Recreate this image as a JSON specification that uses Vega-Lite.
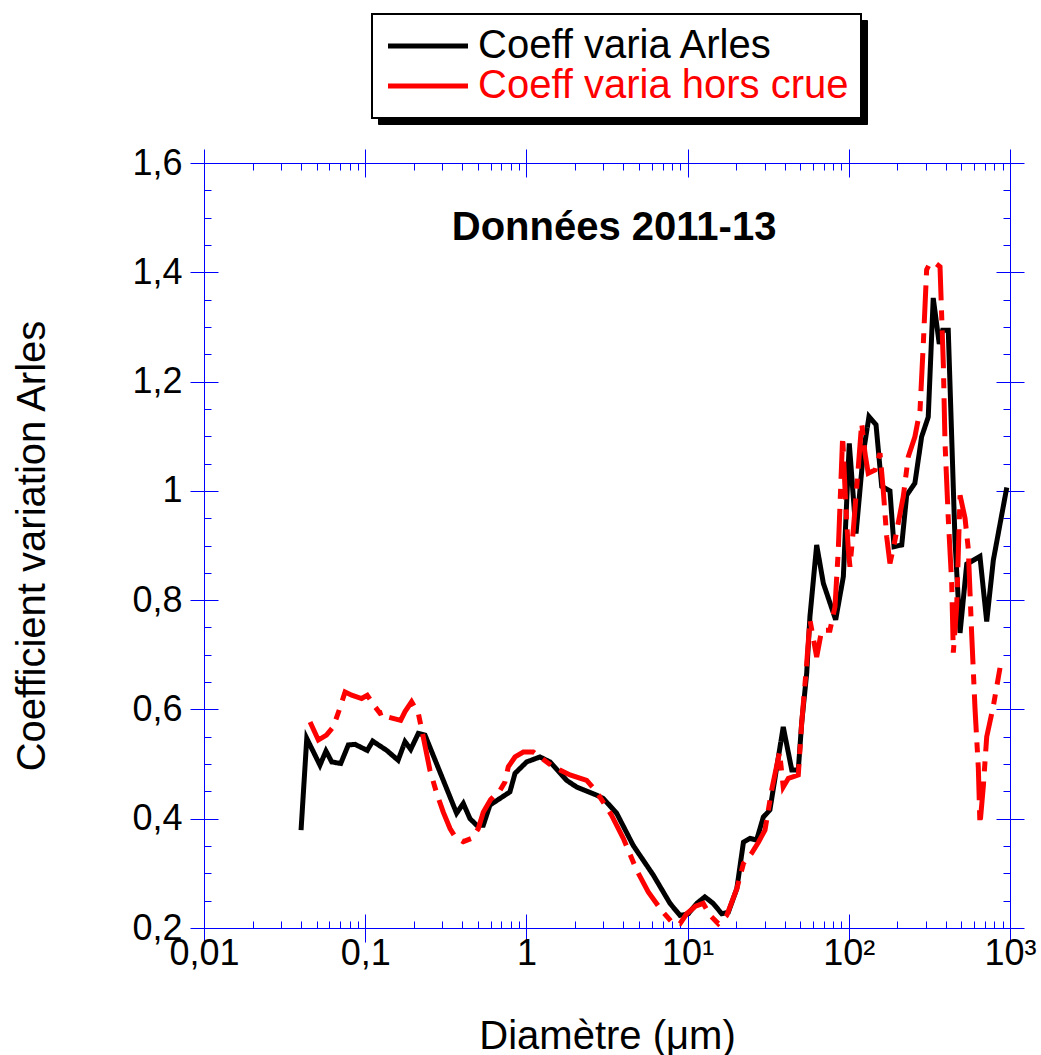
{
  "$schema": "https://vega.github.io/schema/vega-lite/v6.json",
  "width": 806,
  "height": 765,
  "autosize": {"type": "none"},
  "padding": {"left": 204, "top": 163, "right": 31, "bottom": 127},
  "background": "white",
  "config": {
    "view": {"stroke": null},
    "axis": {
      "grid": false,
      "domainColor": "#0000ff",
      "tickColor": "#0000ff",
      "domainWidth": 1,
      "tickWidth": 1,
      "labelFont": "Liberation Sans",
      "labelFontSize": 36,
      "labelColor": "#000000",
      "titleFont": "Liberation Sans",
      "titleFontSize": 40,
      "titleFontWeight": "normal",
      "titleColor": "#000000",
      "labelFlush": false,
      "labelOverlap": false
    },
    "legend": {"labelFont": "Liberation Sans", "labelLimit": 0}
  },
  "data": {
    "values": [
      {"d": 0.04, "cv": 0.379, "s": "Coeff varia Arles"},
      {"d": 0.0434, "cv": 0.547, "s": "Coeff varia Arles"},
      {"d": 0.0524, "cv": 0.498, "s": "Coeff varia Arles"},
      {"d": 0.0571, "cv": 0.524, "s": "Coeff varia Arles"},
      {"d": 0.062, "cv": 0.504, "s": "Coeff varia Arles"},
      {"d": 0.0705, "cv": 0.501, "s": "Coeff varia Arles"},
      {"d": 0.0786, "cv": 0.535, "s": "Coeff varia Arles"},
      {"d": 0.0865, "cv": 0.536, "s": "Coeff varia Arles"},
      {"d": 0.103, "cv": 0.525, "s": "Coeff varia Arles"},
      {"d": 0.1113, "cv": 0.542, "s": "Coeff varia Arles"},
      {"d": 0.136, "cv": 0.525, "s": "Coeff varia Arles"},
      {"d": 0.16, "cv": 0.507, "s": "Coeff varia Arles"},
      {"d": 0.1766, "cv": 0.541, "s": "Coeff varia Arles"},
      {"d": 0.1916, "cv": 0.527, "s": "Coeff varia Arles"},
      {"d": 0.2135, "cv": 0.556, "s": "Coeff varia Arles"},
      {"d": 0.235, "cv": 0.553, "s": "Coeff varia Arles"},
      {"d": 0.369, "cv": 0.41, "s": "Coeff varia Arles"},
      {"d": 0.406, "cv": 0.428, "s": "Coeff varia Arles"},
      {"d": 0.447, "cv": 0.4, "s": "Coeff varia Arles"},
      {"d": 0.492, "cv": 0.388, "s": "Coeff varia Arles"},
      {"d": 0.54, "cv": 0.388, "s": "Coeff varia Arles"},
      {"d": 0.594, "cv": 0.425, "s": "Coeff varia Arles"},
      {"d": 0.79, "cv": 0.449, "s": "Coeff varia Arles"},
      {"d": 0.85, "cv": 0.483, "s": "Coeff varia Arles"},
      {"d": 1.004, "cv": 0.504, "s": "Coeff varia Arles"},
      {"d": 1.214, "cv": 0.513, "s": "Coeff varia Arles"},
      {"d": 1.4, "cv": 0.504, "s": "Coeff varia Arles"},
      {"d": 1.78, "cv": 0.47, "s": "Coeff varia Arles"},
      {"d": 2.05, "cv": 0.458, "s": "Coeff varia Arles"},
      {"d": 2.73, "cv": 0.443, "s": "Coeff varia Arles"},
      {"d": 3.0, "cv": 0.437, "s": "Coeff varia Arles"},
      {"d": 3.63, "cv": 0.41, "s": "Coeff varia Arles"},
      {"d": 4.6, "cv": 0.351, "s": "Coeff varia Arles"},
      {"d": 6.12, "cv": 0.297, "s": "Coeff varia Arles"},
      {"d": 7.78, "cv": 0.245, "s": "Coeff varia Arles"},
      {"d": 8.97, "cv": 0.223, "s": "Coeff varia Arles"},
      {"d": 10.1, "cv": 0.226, "s": "Coeff varia Arles"},
      {"d": 11.4, "cv": 0.245, "s": "Coeff varia Arles"},
      {"d": 12.8, "cv": 0.257, "s": "Coeff varia Arles"},
      {"d": 14.4, "cv": 0.245, "s": "Coeff varia Arles"},
      {"d": 16.3, "cv": 0.226, "s": "Coeff varia Arles"},
      {"d": 17.9, "cv": 0.229, "s": "Coeff varia Arles"},
      {"d": 20.2, "cv": 0.272, "s": "Coeff varia Arles"},
      {"d": 22.2, "cv": 0.357, "s": "Coeff varia Arles"},
      {"d": 24.4, "cv": 0.364, "s": "Coeff varia Arles"},
      {"d": 26.8, "cv": 0.361, "s": "Coeff varia Arles"},
      {"d": 29.5, "cv": 0.403, "s": "Coeff varia Arles"},
      {"d": 32.4, "cv": 0.416, "s": "Coeff varia Arles"},
      {"d": 39.2, "cv": 0.568, "s": "Coeff varia Arles"},
      {"d": 44.3, "cv": 0.489, "s": "Coeff varia Arles"},
      {"d": 48.6, "cv": 0.489, "s": "Coeff varia Arles"},
      {"d": 51, "cv": 0.575, "s": "Coeff varia Arles"},
      {"d": 54.8, "cv": 0.666, "s": "Coeff varia Arles"},
      {"d": 57.4, "cv": 0.77, "s": "Coeff varia Arles"},
      {"d": 63.2, "cv": 0.901, "s": "Coeff varia Arles"},
      {"d": 69.5, "cv": 0.831, "s": "Coeff varia Arles"},
      {"d": 82.9, "cv": 0.764, "s": "Coeff varia Arles"},
      {"d": 92.5, "cv": 0.843, "s": "Coeff varia Arles"},
      {"d": 100.7, "cv": 1.087, "s": "Coeff varia Arles"},
      {"d": 110.9, "cv": 0.922, "s": "Coeff varia Arles"},
      {"d": 123, "cv": 1.069, "s": "Coeff varia Arles"},
      {"d": 133.4, "cv": 1.136, "s": "Coeff varia Arles"},
      {"d": 147.5, "cv": 1.121, "s": "Coeff varia Arles"},
      {"d": 160, "cv": 1.008, "s": "Coeff varia Arles"},
      {"d": 180, "cv": 1.0, "s": "Coeff varia Arles"},
      {"d": 190.8, "cv": 0.898, "s": "Coeff varia Arles"},
      {"d": 213, "cv": 0.901, "s": "Coeff varia Arles"},
      {"d": 228.6, "cv": 0.992, "s": "Coeff varia Arles"},
      {"d": 257, "cv": 1.014, "s": "Coeff varia Arles"},
      {"d": 283, "cv": 1.099, "s": "Coeff varia Arles"},
      {"d": 311, "cv": 1.135, "s": "Coeff varia Arles"},
      {"d": 334, "cv": 1.353, "s": "Coeff varia Arles"},
      {"d": 364, "cv": 1.269, "s": "Coeff varia Arles"},
      {"d": 382, "cv": 1.294, "s": "Coeff varia Arles"},
      {"d": 414, "cv": 1.294, "s": "Coeff varia Arles"},
      {"d": 456, "cv": 0.908, "s": "Coeff varia Arles"},
      {"d": 490, "cv": 0.74, "s": "Coeff varia Arles"},
      {"d": 539, "cv": 0.866, "s": "Coeff varia Arles"},
      {"d": 651, "cv": 0.88, "s": "Coeff varia Arles"},
      {"d": 717, "cv": 0.761, "s": "Coeff varia Arles"},
      {"d": 788, "cv": 0.873, "s": "Coeff varia Arles"},
      {"d": 955, "cv": 1.006, "s": "Coeff varia Arles"},
      {"d": 0.0455, "cv": 0.577, "s": "Coeff varia hors crue"},
      {"d": 0.0512, "cv": 0.544, "s": "Coeff varia hors crue"},
      {"d": 0.0575, "cv": 0.553, "s": "Coeff varia hors crue"},
      {"d": 0.0634, "cv": 0.568, "s": "Coeff varia hors crue"},
      {"d": 0.069, "cv": 0.599, "s": "Coeff varia hors crue"},
      {"d": 0.075, "cv": 0.632, "s": "Coeff varia hors crue"},
      {"d": 0.0825, "cv": 0.626, "s": "Coeff varia hors crue"},
      {"d": 0.095, "cv": 0.62, "s": "Coeff varia hors crue"},
      {"d": 0.103, "cv": 0.626, "s": "Coeff varia hors crue"},
      {"d": 0.115, "cv": 0.605, "s": "Coeff varia hors crue"},
      {"d": 0.1236, "cv": 0.593, "s": "Coeff varia hors crue"},
      {"d": 0.1327, "cv": 0.596, "s": "Coeff varia hors crue"},
      {"d": 0.139, "cv": 0.586, "s": "Coeff varia hors crue"},
      {"d": 0.166, "cv": 0.58, "s": "Coeff varia hors crue"},
      {"d": 0.1766, "cv": 0.596, "s": "Coeff varia hors crue"},
      {"d": 0.194, "cv": 0.614, "s": "Coeff varia hors crue"},
      {"d": 0.2135, "cv": 0.593, "s": "Coeff varia hors crue"},
      {"d": 0.229, "cv": 0.55, "s": "Coeff varia hors crue"},
      {"d": 0.252, "cv": 0.489, "s": "Coeff varia hors crue"},
      {"d": 0.278, "cv": 0.446, "s": "Coeff varia hors crue"},
      {"d": 0.305, "cv": 0.412, "s": "Coeff varia hors crue"},
      {"d": 0.336, "cv": 0.382, "s": "Coeff varia hors crue"},
      {"d": 0.361, "cv": 0.367, "s": "Coeff varia hors crue"},
      {"d": 0.406, "cv": 0.358, "s": "Coeff varia hors crue"},
      {"d": 0.458, "cv": 0.364, "s": "Coeff varia hors crue"},
      {"d": 0.503, "cv": 0.382, "s": "Coeff varia hors crue"},
      {"d": 0.54, "cv": 0.412, "s": "Coeff varia hors crue"},
      {"d": 0.6, "cv": 0.435, "s": "Coeff varia hors crue"},
      {"d": 0.686, "cv": 0.452, "s": "Coeff varia hors crue"},
      {"d": 0.736, "cv": 0.467, "s": "Coeff varia hors crue"},
      {"d": 0.772, "cv": 0.495, "s": "Coeff varia hors crue"},
      {"d": 0.85, "cv": 0.513, "s": "Coeff varia hors crue"},
      {"d": 0.957, "cv": 0.522, "s": "Coeff varia hors crue"},
      {"d": 1.104, "cv": 0.522, "s": "Coeff varia hors crue"},
      {"d": 1.468, "cv": 0.495, "s": "Coeff varia hors crue"},
      {"d": 1.865, "cv": 0.48, "s": "Coeff varia hors crue"},
      {"d": 2.366, "cv": 0.47, "s": "Coeff varia hors crue"},
      {"d": 2.73, "cv": 0.449, "s": "Coeff varia hors crue"},
      {"d": 3.38, "cv": 0.406, "s": "Coeff varia hors crue"},
      {"d": 3.99, "cv": 0.364, "s": "Coeff varia hors crue"},
      {"d": 4.83, "cv": 0.306, "s": "Coeff varia hors crue"},
      {"d": 5.7, "cv": 0.266, "s": "Coeff varia hors crue"},
      {"d": 6.9, "cv": 0.232, "s": "Coeff varia hors crue"},
      {"d": 8.15, "cv": 0.208, "s": "Coeff varia hors crue"},
      {"d": 8.97, "cv": 0.208, "s": "Coeff varia hors crue"},
      {"d": 9.87, "cv": 0.226, "s": "Coeff varia hors crue"},
      {"d": 11.2, "cv": 0.24, "s": "Coeff varia hors crue"},
      {"d": 12.5, "cv": 0.245, "s": "Coeff varia hors crue"},
      {"d": 13.8, "cv": 0.223, "s": "Coeff varia hors crue"},
      {"d": 15.5, "cv": 0.208, "s": "Coeff varia hors crue"},
      {"d": 17.5, "cv": 0.223, "s": "Coeff varia hors crue"},
      {"d": 20.2, "cv": 0.272, "s": "Coeff varia hors crue"},
      {"d": 22.2, "cv": 0.318, "s": "Coeff varia hors crue"},
      {"d": 25, "cv": 0.337, "s": "Coeff varia hors crue"},
      {"d": 27.5, "cv": 0.357, "s": "Coeff varia hors crue"},
      {"d": 30.2, "cv": 0.379, "s": "Coeff varia hors crue"},
      {"d": 33.2, "cv": 0.452, "s": "Coeff varia hors crue"},
      {"d": 37.2, "cv": 0.522, "s": "Coeff varia hors crue"},
      {"d": 39.2, "cv": 0.458, "s": "Coeff varia hors crue"},
      {"d": 42.2, "cv": 0.474, "s": "Coeff varia hors crue"},
      {"d": 48.6, "cv": 0.48, "s": "Coeff varia hors crue"},
      {"d": 51, "cv": 0.574, "s": "Coeff varia hors crue"},
      {"d": 54.8, "cv": 0.684, "s": "Coeff varia hors crue"},
      {"d": 57.4, "cv": 0.764, "s": "Coeff varia hors crue"},
      {"d": 63.2, "cv": 0.696, "s": "Coeff varia hors crue"},
      {"d": 67.9, "cv": 0.745, "s": "Coeff varia hors crue"},
      {"d": 76.4, "cv": 0.745, "s": "Coeff varia hors crue"},
      {"d": 82.1, "cv": 0.788, "s": "Coeff varia hors crue"},
      {"d": 86, "cv": 0.89, "s": "Coeff varia hors crue"},
      {"d": 91.6, "cv": 1.1, "s": "Coeff varia hors crue"},
      {"d": 95.5, "cv": 0.98, "s": "Coeff varia hors crue"},
      {"d": 99.3, "cv": 0.892, "s": "Coeff varia hors crue"},
      {"d": 101.7, "cv": 0.861, "s": "Coeff varia hors crue"},
      {"d": 106.6, "cv": 0.928, "s": "Coeff varia hors crue"},
      {"d": 114.6, "cv": 1.044, "s": "Coeff varia hors crue"},
      {"d": 120.2, "cv": 1.124, "s": "Coeff varia hors crue"},
      {"d": 126, "cv": 1.069, "s": "Coeff varia hors crue"},
      {"d": 132, "cv": 1.032, "s": "Coeff varia hors crue"},
      {"d": 145.4, "cv": 1.038, "s": "Coeff varia hors crue"},
      {"d": 156.2, "cv": 1.069, "s": "Coeff varia hors crue"},
      {"d": 163.7, "cv": 1.0, "s": "Coeff varia hors crue"},
      {"d": 171.8, "cv": 0.916, "s": "Coeff varia hors crue"},
      {"d": 180, "cv": 0.867, "s": "Coeff varia hors crue"},
      {"d": 193.5, "cv": 0.91, "s": "Coeff varia hors crue"},
      {"d": 217.9, "cv": 0.99, "s": "Coeff varia hors crue"},
      {"d": 234, "cv": 1.063, "s": "Coeff varia hors crue"},
      {"d": 257, "cv": 1.099, "s": "Coeff varia hors crue"},
      {"d": 276.6, "cv": 1.148, "s": "Coeff varia hors crue"},
      {"d": 290, "cv": 1.27, "s": "Coeff varia hors crue"},
      {"d": 304, "cv": 1.405, "s": "Coeff varia hors crue"},
      {"d": 319, "cv": 1.417, "s": "Coeff varia hors crue"},
      {"d": 343, "cv": 1.417, "s": "Coeff varia hors crue"},
      {"d": 368, "cv": 1.41, "s": "Coeff varia hors crue"},
      {"d": 386, "cv": 1.23, "s": "Coeff varia hors crue"},
      {"d": 395, "cv": 1.09, "s": "Coeff varia hors crue"},
      {"d": 414, "cv": 0.95, "s": "Coeff varia hors crue"},
      {"d": 435, "cv": 0.83, "s": "Coeff varia hors crue"},
      {"d": 445, "cv": 0.704, "s": "Coeff varia hors crue"},
      {"d": 467, "cv": 0.789, "s": "Coeff varia hors crue"},
      {"d": 490, "cv": 0.992, "s": "Coeff varia hors crue"},
      {"d": 526, "cv": 0.95, "s": "Coeff varia hors crue"},
      {"d": 551, "cv": 0.894, "s": "Coeff varia hors crue"},
      {"d": 578, "cv": 0.74, "s": "Coeff varia hors crue"},
      {"d": 607, "cv": 0.6, "s": "Coeff varia hors crue"},
      {"d": 636, "cv": 0.494, "s": "Coeff varia hors crue"},
      {"d": 651, "cv": 0.389, "s": "Coeff varia hors crue"},
      {"d": 683, "cv": 0.459, "s": "Coeff varia hors crue"},
      {"d": 717, "cv": 0.55, "s": "Coeff varia hors crue"},
      {"d": 788, "cv": 0.606, "s": "Coeff varia hors crue"},
      {"d": 867, "cv": 0.676, "s": "Coeff varia hors crue"}
    ]
  },
  "resolve": {"axis": {"x": "independent", "y": "independent"}, "scale": {"color": "independent"}},
  "layer": [
    {
      "mark": {"type": "line", "opacity": 0},
      "encoding": {
        "x": {"field": "d", "type": "quantitative", "axis": null},
        "y": {"field": "cv", "type": "quantitative", "axis": null},
        "color": {
          "field": "s", "type": "nominal",
          "scale": {"domain": ["Coeff varia Arles", "Coeff varia hors crue"], "range": ["#000000", "#000000"]},
          "legend": {
            "orient": "none",
            "legendX": 174,
            "legendY": -143,
            "title": null,
            "labelFontSize": 40,
            "labelColor": "#000000",
            "labelOpacity": 0,
            "symbolOpacity": 0,
            "symbolType": "M-2.2857,0H2.2857",
            "symbolSize": 1225,
            "symbolStrokeWidth": 5,
            "symbolOffset": 24,
            "labelOffset": 30,
            "padding": 12,
            "rowPadding": 0,
            "strokeColor": "#000000",
            "fillColor": "#000000",
            "zindex": 1
          }
        }
      }
    },
    {
      "mark": {"type": "line", "strokeWidth": 5, "strokeJoin": "miter"},
      "encoding": {
        "x": {
          "field": "d", "type": "quantitative",
          "scale": {"type": "log", "domain": [0.01, 1000], "nice": false},
          "axis": {
            "orient": "bottom",
            "values": [0.01, 0.1, 1, 10, 100, 1000],
            "tickSize": 14,
            "labelPadding": -6,
            "labelExpr": "datum.value < 0.05 ? '0,01' : datum.value < 0.5 ? '0,1' : datum.value < 5 ? '1' : datum.value < 50 ? '10¹' : datum.value < 500 ? '10²' : '10³'",
            "title": "Diamètre (μm)",
            "titleY": 120,
            "titleBaseline": "alphabetic"
          }
        },
        "y": {
          "field": "cv", "type": "quantitative",
          "scale": {"domain": [0.2, 1.6], "nice": false, "zero": false},
          "axis": {
            "orient": "left",
            "values": [0.2, 0.4, 0.6, 0.8, 1, 1.2, 1.4, 1.6],
            "tickSize": 14,
            "labelPadding": 8,
            "labelExpr": "replace(format(datum.value, '.1~f'), '.', ',')",
            "title": "Coefficient variation Arles",
            "titleX": -160,
            "titleY": 382.5,
            "titleAngle": -90,
            "titleAlign": "center",
            "titleBaseline": "alphabetic"
          }
        },
        "color": {
          "field": "s", "type": "nominal",
          "scale": {"domain": ["Coeff varia Arles", "Coeff varia hors crue"], "range": ["#000000", "#ff0000"]},
          "legend": {
            "orient": "none",
            "legendX": 168,
            "legendY": -149,
            "title": null,
            "labelFontSize": 40,
            "symbolType": "M-2.2857,0H2.2857",
            "symbolSize": 1225,
            "symbolStrokeWidth": 5,
            "symbolOffset": 24,
            "symbolDashOffset": 38,
            "labelOffset": 30,
            "padding": 12,
            "rowPadding": 0,
            "strokeColor": "#000000",
            "fillColor": "#ffffff",
            "zindex": 2,
            "encode": {
              "legend": {"update": {"strokeWidth": {"value": 2}}},
              "labels": {"update": {"fill": {"signal": "datum.value == 'Coeff varia Arles' ? '#000000' : '#ff0000'"}}}
            }
          }
        },
        "strokeDash": {
          "field": "s", "type": "nominal",
          "scale": {"domain": ["Coeff varia Arles", "Coeff varia hors crue"], "range": [[1, 0], [38, 10, 10, 10]]}
        }
      }
    },
    {
      "mark": {"type": "line", "opacity": 0},
      "encoding": {
        "x": {"field": "d", "type": "quantitative", "axis": {"orient": "bottom", "values": [0.01, 0.1, 1, 10, 100, 1000], "tickSize": -14, "labels": false, "domain": false, "title": null}},
        "y": {"field": "cv", "type": "quantitative", "axis": {"orient": "left", "values": [0.2, 0.4, 0.6, 0.8, 1, 1.2, 1.4, 1.6], "tickSize": -14, "labels": false, "domain": false, "title": null}},
        "detail": {"field": "s"}
      }
    },
    {
      "mark": {"type": "line", "opacity": 0},
      "encoding": {
        "x": {"field": "d", "type": "quantitative", "axis": {"orient": "bottom", "values": [0.02, 0.03, 0.04, 0.05, 0.06, 0.07, 0.08, 0.09, 0.2, 0.3, 0.4, 0.5, 0.6, 0.7, 0.8, 0.9, 2, 3, 4, 5, 6, 7, 8, 9, 20, 30, 40, 50, 60, 70, 80, 90, 200, 300, 400, 500, 600, 700, 800, 900], "tickSize": -7, "labels": false, "domain": false, "title": null}},
        "y": {"field": "cv", "type": "quantitative", "axis": {"orient": "left", "values": [0.25, 0.3, 0.35, 0.45, 0.5, 0.55, 0.65, 0.7, 0.75, 0.85, 0.9, 0.95, 1.05, 1.1, 1.15, 1.25, 1.3, 1.35, 1.45, 1.5, 1.55], "tickSize": -7, "labels": false, "domain": false, "title": null}},
        "detail": {"field": "s"}
      }
    },
    {
      "mark": {"type": "line", "opacity": 0},
      "encoding": {
        "x": {"field": "d", "type": "quantitative", "axis": {"orient": "top", "values": [0.01, 0.1, 1, 10, 100, 1000], "tickSize": 14, "labels": false, "domain": true, "title": null}},
        "y": {"field": "cv", "type": "quantitative", "axis": {"orient": "right", "values": [0.2, 0.4, 0.6, 0.8, 1, 1.2, 1.4, 1.6], "tickSize": 14, "labels": false, "domain": true, "title": null}},
        "detail": {"field": "s"}
      }
    },
    {
      "mark": {"type": "line", "opacity": 0},
      "encoding": {
        "x": {"field": "d", "type": "quantitative", "axis": {"orient": "top", "values": [0.01, 0.1, 1, 10, 100, 1000], "tickSize": -14, "labels": false, "domain": false, "title": null}},
        "y": {"field": "cv", "type": "quantitative", "axis": {"orient": "right", "values": [0.2, 0.4, 0.6, 0.8, 1, 1.2, 1.4, 1.6], "tickSize": -14, "labels": false, "domain": false, "title": null}},
        "detail": {"field": "s"}
      }
    },
    {
      "mark": {"type": "line", "opacity": 0},
      "encoding": {
        "x": {"field": "d", "type": "quantitative", "axis": {"orient": "top", "values": [0.02, 0.03, 0.04, 0.05, 0.06, 0.07, 0.08, 0.09, 0.2, 0.3, 0.4, 0.5, 0.6, 0.7, 0.8, 0.9, 2, 3, 4, 5, 6, 7, 8, 9, 20, 30, 40, 50, 60, 70, 80, 90, 200, 300, 400, 500, 600, 700, 800, 900], "tickSize": -7, "labels": false, "domain": false, "title": null}},
        "y": {"field": "cv", "type": "quantitative", "axis": {"orient": "right", "values": [0.25, 0.3, 0.35, 0.45, 0.5, 0.55, 0.65, 0.7, 0.75, 0.85, 0.9, 0.95, 1.05, 1.1, 1.15, 1.25, 1.3, 1.35, 1.45, 1.5, 1.55], "tickSize": -7, "labels": false, "domain": false, "title": null}},
        "detail": {"field": "s"}
      }
    },
    {
      "data": {"values": [{"t": "Données 2011-13", "d": 3.5, "cv": 1.481}]},
      "mark": {"type": "text", "font": "Liberation Sans", "fontSize": 40, "fontWeight": "bold", "baseline": "middle", "align": "center", "color": "#000000"},
      "encoding": {
        "x": {"field": "d", "type": "quantitative", "axis": null},
        "y": {"field": "cv", "type": "quantitative", "axis": null},
        "text": {"field": "t"}
      }
    }
  ]
}
